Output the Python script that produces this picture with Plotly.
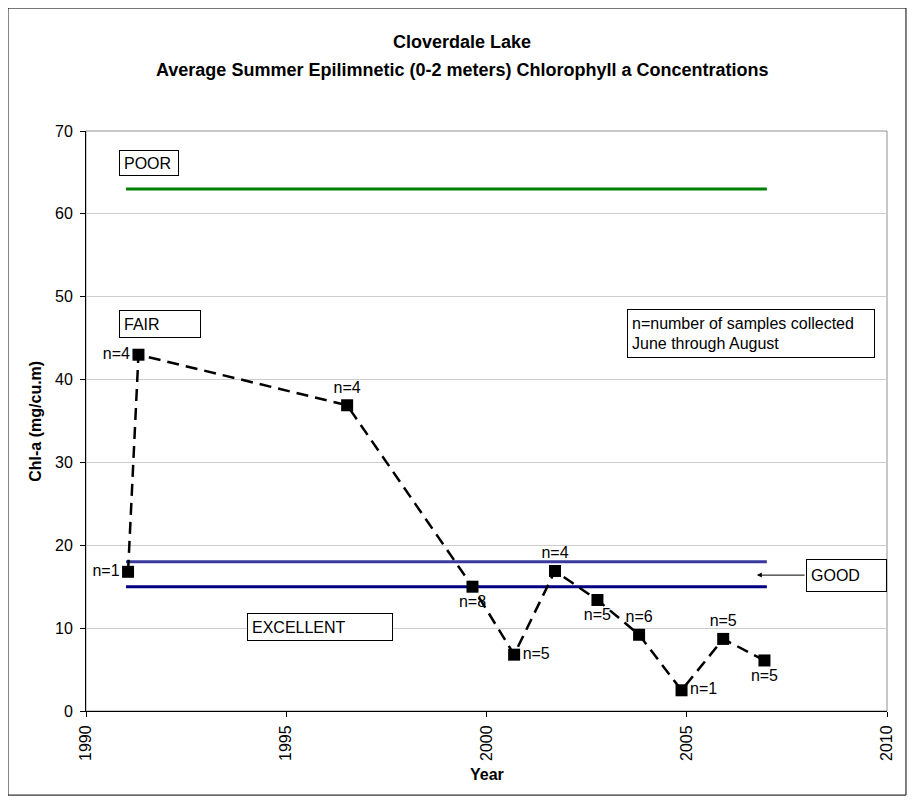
import plotly.graph_objects as go

# ---- data ----
years = [1991.05, 1991.31, 1996.52, 1999.65, 2000.69, 2001.71, 2002.77, 2003.81, 2004.87, 2005.91, 2006.94]
chla = [16.8, 43.0, 36.9, 15.0, 6.8, 16.9, 13.4, 9.2, 2.5, 8.7, 6.1]
n_labels = ["n=1", "n=4", "n=4", "n=8", "n=5", "n=4", "n=5", "n=6", "n=1", "n=5", "n=5"]
label_pos = ["middle left", "middle left", "top center", "bottom center", "middle right",
             "top center", "bottom center", "top center", "middle right", "top center", "bottom center"]

threshold_years = [1991, 2007]
poor_level = [63, 63]
good_level = [18, 18]
excellent_level = [15, 15]

x_ticks = [1990, 1995, 2000, 2005, 2010]
y_ticks = [0, 10, 20, 30, 40, 50, 60, 70]

FONT = "Arial, Liberation Sans, sans-serif"

fig = go.Figure()

fig.add_trace(go.Scatter(x=threshold_years, y=poor_level, mode="lines",
                         line=dict(color="#008000", width=3), hoverinfo="skip", showlegend=False))
fig.add_trace(go.Scatter(x=threshold_years, y=good_level, mode="lines",
                         line=dict(color="#3A3A9E", width=3), hoverinfo="skip", showlegend=False))
fig.add_trace(go.Scatter(x=threshold_years, y=excellent_level, mode="lines",
                         line=dict(color="#000080", width=3), hoverinfo="skip", showlegend=False))

fig.add_trace(go.Scatter(
    x=years, y=chla, mode="lines+markers+text",
    line=dict(color="black", width=2.5, dash="12px,7px"),
    marker=dict(symbol="square", size=12, color="black"),
    text=n_labels, textposition=label_pos,
    textfont=dict(family=FONT, size=16, color="black"),
    showlegend=False,
))

def box(text, x, y, w, h, size=16):
    fig.add_annotation(x=x, y=y, xref="x", yref="y", xanchor="left", yanchor="top",
                       text=text, showarrow=False, align="left", valign="middle",
                       width=w - 10, height=h - 10, borderpad=4,
                       bordercolor="black", borderwidth=1, bgcolor="white",
                       font=dict(family=FONT, size=size, color="black"))

box("POOR", 1990.83, 67.75, 60, 26)
box("FAIR", 1990.83, 48.45, 82, 28)
box("EXCELLENT", 1994.02, 11.8, 146, 28)
box("n=number of samples collected<br>June through August", 2003.5, 48.5, 248, 49)
box("GOOD", 2007.98, 18.3, 81, 33)

fig.add_annotation(x=2006.75, y=16.4, ax=2007.98, ay=16.4, xref="x", yref="y",
                   axref="x", ayref="y", text="", showarrow=True,
                   arrowhead=2, arrowsize=1, arrowwidth=1, arrowcolor="black")

# titles
fig.add_annotation(x=0.469, y=1.153, xref="paper", yref="paper", showarrow=False,
                   xanchor="center", yanchor="middle",
                   text="<b>Cloverdale Lake</b>", font=dict(family=FONT, size=18, color="black"))
fig.add_annotation(x=0.469, y=1.105, xref="paper", yref="paper", showarrow=False,
                   xanchor="center", yanchor="middle",
                   text="<b>Average Summer Epilimnetic (0-2 meters) Chlorophyll a Concentrations</b>",
                   font=dict(family=FONT, size=18, color="black"))
fig.add_annotation(x=-0.064, y=0.5, xref="paper", yref="paper", showarrow=False, textangle=-90,
                   xanchor="center", yanchor="middle",
                   text="<b>Chl-a (mg/cu.m)</b>", font=dict(family=FONT, size=16, color="black"))
fig.add_annotation(x=0.5, y=-0.110, xref="paper", yref="paper", showarrow=False,
                   xanchor="center", yanchor="middle",
                   text="<b>Year</b>", font=dict(family=FONT, size=16, color="black"))

# plot area border and outer frame
fig.add_shape(type="rect", xref="paper", yref="paper", x0=0, x1=1, y0=0, y1=1,
              line=dict(color="#909090", width=1), layer="below")
fig.add_shape(type="rect", xref="paper", yref="paper", x0=-0.0974, x1=1.0237, y0=-0.145, y1=1.212,
              line=dict(color="black", width=1))

fig.update_layout(
    width=915, height=803, autosize=False,
    margin=dict(l=78, r=36, t=123, b=100),
    paper_bgcolor="white", plot_bgcolor="white",
    font=dict(family=FONT, size=16, color="black"),
    showlegend=False,
)
fig.update_xaxes(range=[1990, 2010], tickvals=x_ticks, tickangle=-90,
                 showgrid=False, zeroline=False, showline=True, linecolor="black", linewidth=1,
                 ticks="outside", ticklen=5, tickcolor="black", ticklabelstandoff=2,
                 tickfont=dict(family=FONT, size=16, color="black"))
fig.update_yaxes(range=[0, 70], tickvals=y_ticks,
                 showgrid=True, gridcolor="#CCCCCC", gridwidth=1, zeroline=False,
                 showline=True, linecolor="black", linewidth=1,
                 ticks="outside", ticklen=5, tickcolor="black", ticklabelstandoff=4,
                 tickfont=dict(family=FONT, size=16, color="black"))

fig.write_html("out.html")
